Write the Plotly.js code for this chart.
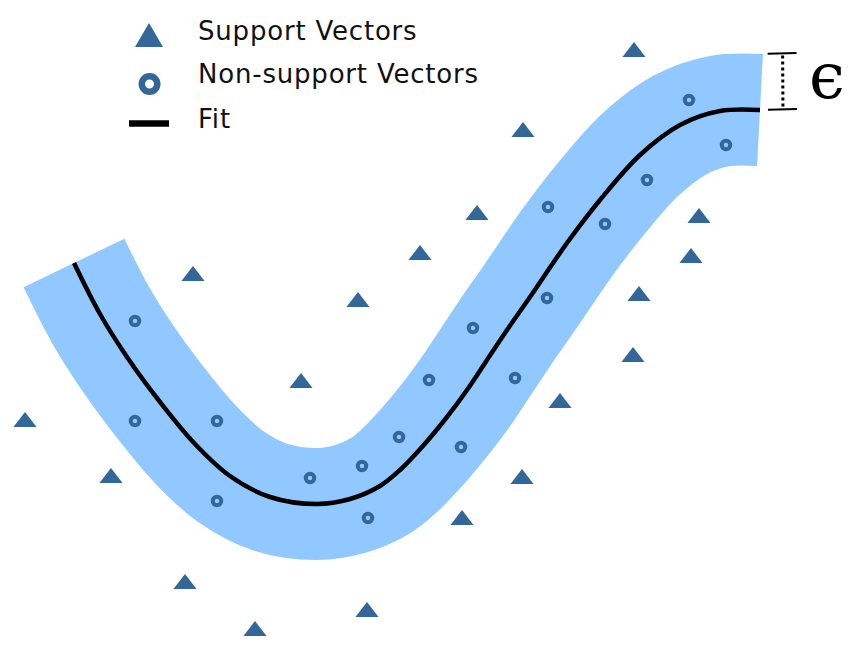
<!DOCTYPE html>
<html><head><meta charset="utf-8">
<script src="https://cdn.plot.ly/plotly-3.0.1.min.js"></script>
<style>html,body{margin:0;padding:0;background:#fff}
.annotation-text{letter-spacing:0.8px}</style>
</head><body><div id="chart" style="width:861px;height:645px"></div>
<script>
// Fitted curve (pixel-like data units)
const fitX = [74,100,127,160,195,230,270,317,350,380,400,422,447,467,487,507,530,567,600,640,680,720,760];
const fitY = [263,314,357,402,444,476,497,504,499,486,470,447,417,390,360,330,297,243,200,155,125,111,110];
const epsilon = 56;

// Support vectors (outside / on the tube)
const svX = [634,523,477,699,420,691,193,358,639,633,301,560,25,111,522,462,185,367,255];
const svY = [52,132,215,218,255,258,276,302,296,357,383,403,422,478,479,520,584,612,631];

// Non-support vectors (inside the tube)
const nsX = [689,726,647,548,605,547,135,473,429,515,135,217,399,461,362,310,217,368];
const nsY = [100,145,180,207,224,298,321,328,380,378,421,421,437,447,466,478,501,518];

const legendLabels = ['Support Vectors','Non-support Vectors','Fit'];
const epsilonLabel = 'ϵ';

const markerColor = '#336699';
const bandColor = '#90c8ff';

const n = fitX.length;
function tangent(i){
  const a=Math.max(i-1,0), b=Math.min(i+1,n-1);
  let tx=fitX[b]-fitX[a], ty=fitY[b]-fitY[a];
  const L=Math.hypot(tx,ty); return [tx/L, ty/L];
}

const traces = [
  // epsilon tube: the fit stroked with width 2*epsilon (1 data unit = 1 px)
  {x: fitX, y: fitY, mode:'lines', line:{width:2*epsilon, shape:'spline', color:bandColor}, hoverinfo:'skip', showlegend:false},
  {x: fitX, y: fitY, mode:'lines', name: legendLabels[2], line:{color:'#000', width:4.5, shape:'spline'}, showlegend:false},
  {x: nsX, y: nsY, mode:'markers', name: legendLabels[1], marker:{symbol:'circle-open', size:8.5, color:markerColor, line:{width:4, color:markerColor}}, showlegend:false},
  {x: svX, y: svY, mode:'markers', name: legendLabels[0], marker:{symbol:'triangle-up', size:20, color:markerColor, line:{width:0}}, showlegend:false}
];

// epsilon marker at the end of the fit
const E=[fitX[n-1], fitY[n-1]];
const tE=tangent(n-1); const nE=[tE[1], -tE[0]];
function pt(s,d){ return [E[0]+s*nE[0]+d*tE[0], E[1]+s*nE[1]+d*tE[1]]; }
const tb0=pt(epsilon,9), tb1=pt(epsilon,38), bb0=pt(0,8), bb1=pt(0,37);
const dt0=pt(epsilon-2,24), dt1=pt(2,23);
const epsPos=pt(epsilon/2+4,68);

const shapes = [
  {type:'line', xref:'x', yref:'y', x0:tb0[0], y0:tb0[1], x1:tb1[0], y1:tb1[1], line:{color:'#000', width:2}},
  {type:'line', xref:'x', yref:'y', x0:bb0[0], y0:bb0[1], x1:bb1[0], y1:bb1[1], line:{color:'#000', width:2}},
  {type:'line', xref:'x', yref:'y', x0:dt0[0], y0:dt0[1], x1:dt1[0], y1:dt1[1], line:{color:'#000', width:3, dash:'dot'}},
  // legend keys
  {type:'path', xref:'x', yref:'y', path:'M135,47 L163,47 L149,23 Z', fillcolor:markerColor, line:{width:0}},
  {type:'circle', xref:'x', yref:'y', x0:141.8, y0:76.2, x1:157.3, y1:91.8, fillcolor:'rgba(0,0,0,0)', line:{color:markerColor, width:6.5}},
  {type:'line', xref:'x', yref:'y', x0:129, y0:123.5, x1:169, y1:123.5, line:{color:'#000', width:6.5}}
];

const legFont = {family:'DejaVu Sans', size:26, color:'#111'};
const annotations = [
  {x:196, y:31, xref:'x', yref:'y', text:legendLabels[0], showarrow:false, xanchor:'left', yanchor:'middle', font:legFont},
  {x:196, y:74, xref:'x', yref:'y', text:legendLabels[1], showarrow:false, xanchor:'left', yanchor:'middle', font:legFont},
  {x:196, y:119, xref:'x', yref:'y', text:legendLabels[2], showarrow:false, xanchor:'left', yanchor:'middle', font:legFont},
  {x:epsPos[0], y:epsPos[1], xref:'x', yref:'y', text:epsilonLabel, showarrow:false, xanchor:'center', yanchor:'middle', font:{family:'DejaVu Serif', size:64, color:'#000'}}
];

const layout = {
  width:861, height:645,
  margin:{l:0,r:0,t:0,b:0},
  paper_bgcolor:'#fff', plot_bgcolor:'#fff',
  xaxis:{range:[0,861], visible:false, fixedrange:true},
  yaxis:{range:[645,0], visible:false, fixedrange:true},
  showlegend:false,
  shapes:shapes, annotations:annotations
};
Plotly.newPlot('chart', traces, layout, {staticPlot:true, displayModeBar:false});
</script></body></html>
